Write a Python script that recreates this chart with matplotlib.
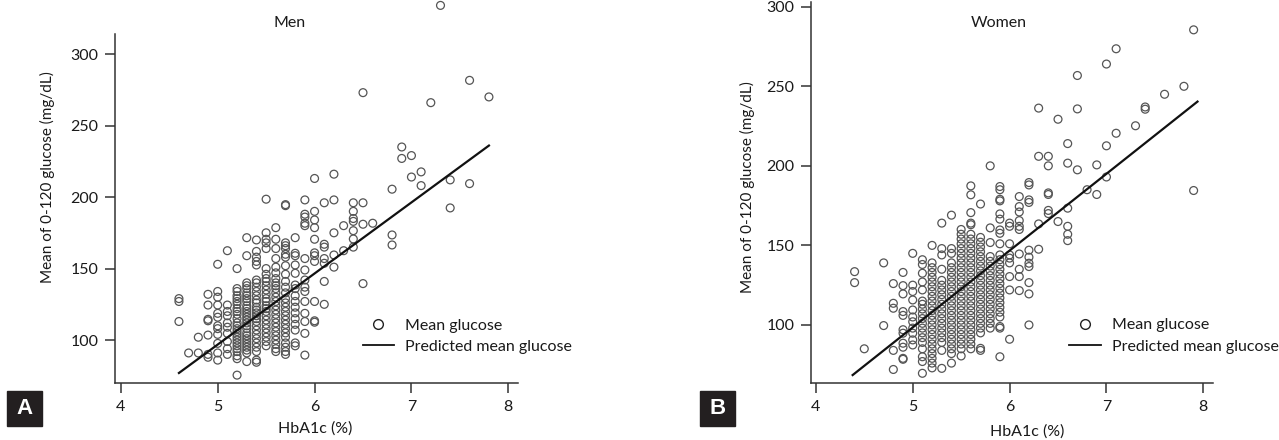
import matplotlib
matplotlib.use("Agg")
import matplotlib.pyplot as plt
from matplotlib.lines import Line2D

plt.rcParams['font.family'] = ['Lato', 'DejaVu Sans']

# ---------------- data ----------------
men_hba1c = [4.6, 4.7, 4.8, 4.9, 5.0, 5.1, 5.2, 5.3, 5.4, 5.5, 5.6, 5.7, 5.8, 5.9,
             6.0, 6.1, 6.2, 6.3, 6.4, 6.5, 6.6, 6.8, 6.9, 7.0, 7.1, 7.2, 7.3, 7.4, 7.6, 7.8]
men_glucose = [
    [129, 127, 113],
    [91],
    [102, 91],
    [132, 124.5, 114.5, 113.5, 103.5, 90, 88],
    [153, 134, 130, 124.5, 118.7, 116, 110, 108, 104, 97.7, 91, 86],
    [162.5, 124.5, 120, 117, 112, 109, 104.7, 99, 94, 90],
    [150, 136, 134, 131, 129, 127, 125, 122, 120, 118, 115, 112, 110, 108, 106, 104, 102, 100, 98, 96, 94, 92, 89, 87, 75.5],
    [171.6, 159, 140, 138, 136, 133, 131, 129, 127, 124, 122, 120, 118, 116, 114, 112, 110, 108, 105, 103, 101, 99, 97, 95, 93, 91, 85],
    [170, 162, 158, 155, 152.5, 142, 140, 137, 134, 131, 128, 126, 123, 121, 119, 117, 115, 113, 110, 107, 104, 101, 98, 95, 92, 86, 84.5],
    [198.5, 175, 170.5, 168, 164, 150, 146, 143, 141, 138, 135, 132, 129, 127, 124, 122, 120, 117, 114, 111, 108, 105, 102, 99, 96],
    [178.6, 170.5, 164, 157, 151, 147, 143, 140, 138, 136, 133, 130, 127, 124, 121, 118, 115, 112, 109, 106, 103, 100, 97, 94, 92],
    [194.7, 194, 168, 166, 164, 160, 158, 152, 146, 141, 137, 133, 129, 126, 123, 120, 117, 114, 111, 108, 105, 102, 98, 95, 92, 90],
    [171.6, 160.7, 159, 152.5, 146.7, 138.5, 136, 131, 127, 123, 119, 115, 111, 107, 98, 96],
    [198, 188, 186, 181.7, 180, 157, 149, 142, 137, 134, 127, 118.7, 113, 104.7, 89.5],
    [213, 190, 184, 178.6, 170.5, 161, 159, 155, 127, 113.5, 112.5],
    [196, 167, 165, 157, 153.7, 141, 125],
    [216, 198, 175, 159.5, 151],
    [180, 162.5],
    [196, 190, 185, 183, 176.5, 170.7, 165],
    [273, 196, 181, 139.5],
    [181.7],
    [205.5, 173.5, 166.5],
    [235, 227],
    [229, 214],
    [217.6, 208],
    [266],
    [334],
    [212, 192.4],
    [281.6, 209.4],
    [270],
]
men_line_x = [4.6, 7.8]
men_line_y = [77, 236]

women_hba1c = [4.4, 4.5, 4.7, 4.8, 4.9, 5.0, 5.1, 5.2, 5.3, 5.4, 5.5, 5.6, 5.7, 5.8, 5.9,
               6.0, 6.1, 6.2, 6.3, 6.4, 6.5, 6.6, 6.7, 6.8, 6.9, 7.0, 7.1, 7.3, 7.4, 7.6, 7.8, 7.9]
women_glucose = [
    [133.5, 126.6],
    [85],
    [139, 99.6],
    [126, 113.6, 110.5, 84, 72],
    [133, 124.7, 119.5, 108.4, 106, 97, 94.8, 88.5, 86, 79, 78.4],
    [145, 125, 121, 115.7, 109.4, 105, 102, 98, 94.8, 90.6, 87.4],
    [141, 138, 132.5, 127, 122, 115, 113, 110, 107, 104, 101, 98, 95, 92, 89, 85, 80, 77, 69.6],
    [150, 139, 136, 133, 130, 127, 124, 121, 118, 115, 112, 109, 106, 103, 100, 97, 94, 91, 88, 85, 82, 79, 76, 73],
    [164, 148, 144, 135, 128, 125, 122, 119, 116, 113, 110, 107, 104, 101, 98, 95, 92, 89, 84, 72.7],
    [169, 148, 145, 139, 136, 133, 130, 127, 124, 121, 118, 115, 112, 109, 106, 103, 100, 97, 94, 91, 88, 85, 82, 76],
    [160, 157, 154, 151, 148, 145, 142, 139, 136, 133, 130, 127, 124, 121, 118, 115, 112, 109, 106, 103, 100, 97, 94, 91, 88, 85, 80.5],
    [187.4, 181.8, 170.6, 164, 163, 157, 154, 151, 148, 145, 142, 139, 136, 133, 130, 127, 124, 121, 118, 115, 112, 109, 106, 103, 100, 97, 94, 91, 88, 85],
    [176, 155, 152, 149, 146, 143, 140, 137, 134, 131, 128, 125, 122, 119, 116, 113, 110, 107, 104, 101, 98, 95, 85.3, 84],
    [200, 161, 151.8, 143, 140, 137, 134, 131, 128, 125, 122, 119, 116, 113, 110, 107, 104, 101, 98],
    [187, 185, 179, 178, 169.8, 166.5, 159.7, 157.6, 151, 144, 141, 138, 135, 132, 129, 126, 123, 120, 117, 114, 111, 108, 105, 99, 98, 80],
    [164, 162, 151, 144, 142, 139, 130.4, 122, 91],
    [180.7, 174.4, 171, 165.6, 162, 160, 144.6, 135, 130.4, 121.6],
    [189.5, 188, 178.6, 177, 147, 142.6, 138.8, 136.7, 126.6, 119.5, 100],
    [236.3, 206, 163.5, 147.6],
    [206, 200, 183, 182, 172, 170],
    [229.3, 165],
    [214, 201.7, 173.4, 162, 157, 153],
    [256.8, 235.8, 197.5],
    [185],
    [200.6, 182],
    [264, 212.6, 193],
    [273.6, 220.5],
    [225.2],
    [237, 235.6],
    [245],
    [250],
    [285.5, 184.5],
]
women_line_x = [4.38, 7.94]
women_line_y = [68.5, 240.4]

x_ticks = [4, 5, 6, 7, 8]
y_ticks = [100, 150, 200, 250, 300]
x_label = "HbA1c (%)"
y_label = "Mean of 0-120 glucose (mg/dL)"
legend_labels = ["Mean glucose", "Predicted mean glucose"]

# ---------------- figure ----------------
W, H = 1279, 440
fig = plt.figure(figsize=(W / 100, H / 100), dpi=100)
FS = 11
FS_LEG = 11.5
TXT = '#1a1a1a'
PT = '#555555'


def px_axes(x0, y0, x1, y1):
    return fig.add_axes([x0 / W, 1 - y1 / H, (x1 - x0) / W, (y1 - y0) / H])


def panel(ax, xs, cols, lx, ly, xlim, ylim, title, title_xy, leg_xy, ylab_xy, xlab_xy):
    px, py = [], []
    for x, col in zip(xs, cols):
        for g in col:
            px.append(x)
            py.append(g)
    ax.scatter(px, py, s=32, facecolors='none', edgecolors=PT, linewidths=0.9,
               clip_on=False, zorder=2)
    ax.plot(lx, ly, color='#111111', lw=1.6, zorder=3)
    ax.set_xlim(*xlim)
    ax.set_ylim(*ylim)
    ax.set_xticks(x_ticks)
    ax.set_yticks(y_ticks)
    for s in ['top', 'right']:
        ax.spines[s].set_visible(False)
    for s in ['left', 'bottom']:
        ax.spines[s].set_linewidth(1.1)
        ax.spines[s].set_color('#333333')
    ax.tick_params(direction='out', length=7, width=1.1, color='#333333',
                   labelsize=FS + 0.5, labelcolor=TXT, pad=5)
    ax.set_facecolor('none')
    ax.text(title_xy[0], title_xy[1], title, fontsize=FS_LEG, color=TXT,
            ha='center', va='center', clip_on=False)
    ax.set_xlabel(x_label, fontsize=FS_LEG, color=TXT)
    ax.set_ylabel(y_label, fontsize=FS, color=TXT)
    ax.xaxis.set_label_coords(*xlab_xy)
    ax.yaxis.set_label_coords(*ylab_xy)
    handles = [
        Line2D([], [], ls='none', marker='o', markersize=7, markerfacecolor='none',
               markeredgecolor='#222222', markeredgewidth=1.0),
        Line2D([], [], color='#111111', lw=1.3),
    ]
    ax.legend(handles, legend_labels, loc='upper left', bbox_to_anchor=leg_xy,
              frameon=False, fontsize=FS_LEG, handlelength=1.95, handletextpad=0.7,
              labelspacing=0.45, borderpad=0, borderaxespad=0, labelcolor=TXT)


axA = px_axes(115, 34, 518, 383)
panel(axA, men_hba1c, men_glucose, men_line_x, men_line_y,
      (3.94, 8.1), (70, 314), "Men", (5.74, 321.7),
      (0.615, 0.185), (-0.15, 0.59), (0.496, -0.11))

axB = px_axes(811, 2, 1213, 383)
panel(axB, women_hba1c, women_glucose, women_line_x, women_line_y,
      (3.95, 8.1), (63.5, 303), "Women", (5.89, 289.8),
      (0.643, 0.17), (-0.14, 0.514), (0.537, -0.108))

for lab, x0 in [("A", 7), ("B", 700)]:
    fig.patches.append(plt.Rectangle((x0 / W, 1 - 426 / H), 35 / W, 35 / H,
                                     transform=fig.transFigure, color='#231f20', zorder=5))
    fig.text((x0 + 17.5) / W, 1 - 408.5 / H, lab, color='white', fontsize=16,
             fontweight='bold', ha='center', va='center', zorder=6,
             family=['Liberation Sans', 'DejaVu Sans'])

fig.savefig("out.png", dpi=100)
